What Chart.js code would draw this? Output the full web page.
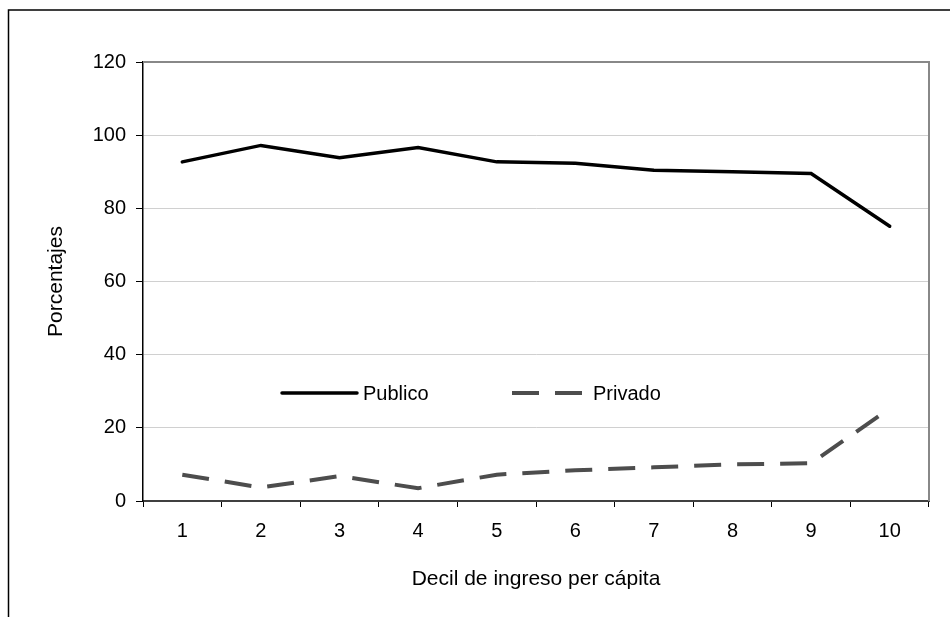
<!DOCTYPE html>
<html>
	<head>
		<meta charset="utf-8" />
		<title>Decil de ingreso</title>
		<script src="https://cdn.jsdelivr.net/npm/chart.js@4.4.0/dist/chart.umd.min.js"></script>
		<style>
			body { margin: 0; background: #fff; }
		</style>
	</head>
	<body>
		<canvas id="myChart" width="950" height="617"></canvas>
	<script>
        //data
        const deciles = ['1', '2', '3', '4', '5', '6', '7', '8', '9', '10'];
        const publico = [92.7, 97.2, 93.8, 96.6, 92.7, 92.3, 90.4, 90.0, 89.5, 75.1];
        const privado = [7.2, 3.7, 6.8, 3.5, 7.2, 8.4, 9.2, 10.0, 10.3, 25.3];
        const seriesNames = ['Publico', 'Privado'];
        const yTicks = [0, 20, 40, 60, 80, 100, 120];

        const fontFamily = "'Liberation Sans', Arial, sans-serif";

        //outer frame + grey top/right edge of the plot
        const framePlugin = {
            id: 'frame',
            beforeDraw(chart) {
                const ctx = chart.ctx;
                ctx.save();
                ctx.fillStyle = '#fff';
                ctx.fillRect(0, 0, chart.width, chart.height);
                ctx.strokeStyle = '#000';
                ctx.lineWidth = 1.5;
                ctx.beginPath();
                ctx.moveTo(8.5, chart.height);
                ctx.lineTo(8.5, 10);
                ctx.lineTo(chart.width, 10);
                ctx.stroke();
                ctx.restore();
            },
            beforeDatasetsDraw(chart) {
                const a = chart.chartArea;
                const ctx = chart.ctx;
                ctx.save();
                ctx.strokeStyle = '#888';
                ctx.lineWidth = 2;
                ctx.beginPath();
                ctx.moveTo(a.left, a.top);
                ctx.lineTo(a.right, a.top);
                ctx.lineTo(a.right, a.bottom);
                ctx.stroke();
                ctx.restore();
            }
        };

        //legend drawn inside the plot like the original
        const insideLegend = {
            id: 'insideLegend',
            afterDatasetsDraw(chart, args, opts) {
                const ctx = chart.ctx;
                ctx.save();
                ctx.font = '20px ' + fontFamily;
                ctx.textBaseline = 'middle';
                ctx.fillStyle = '#000';
                chart.data.datasets.forEach((ds, i) => {
                    const it = opts.items[i];
                    ctx.strokeStyle = ds.borderColor;
                    ctx.lineWidth = ds.borderWidth;
                    ctx.setLineDash(ds.borderDash || []);
                    ctx.lineCap = ds.borderCapStyle || 'butt';
                    ctx.beginPath();
                    ctx.moveTo(it.x, opts.y);
                    ctx.lineTo(it.x + it.len, opts.y);
                    ctx.stroke();
                    ctx.setLineDash([]);
                    ctx.fillText(ds.label, it.x + it.len + 6, opts.y + 1);
                });
                ctx.restore();
            }
        };

        let myChart = document.getElementById('myChart').getContext('2d');

        new Chart(myChart, {
            type: 'line',
            data: {
                labels: deciles,
                datasets: [{
                    label: seriesNames[0],
                    data: publico,
                    borderColor: '#000',
                    borderWidth: 3.5,
                    borderCapStyle: 'round',
                    pointRadius: 0,
                    tension: 0
                }, {
                    label: seriesNames[1],
                    data: privado,
                    borderColor: '#4d4d4d',
                    borderWidth: 4,
                    borderDash: [27, 16],
                    pointRadius: 0,
                    tension: 0
                }]
            },
            options: {
                responsive: false,
                animation: false,
                layout: { padding: { top: 62, right: 21, left: 0, bottom: 0 } },
                plugins: {
                    legend: { display: false },
                    tooltip: { enabled: false },
                    insideLegend: {
                        y: 393,
                        items: [{ x: 282, len: 75 }, { x: 512, len: 75 }]
                    }
                },
                scales: {
                    x: {
                        offset: true,
                        afterFit: (scale) => { scale.height = 116; },
                        grid: {
                            offset: true,
                            drawOnChartArea: false,
                            tickLength: 6,
                            color: '#000'
                        },
                        border: { color: '#404040', width: 2 },
                        ticks: {
                            color: '#000',
                            padding: 12,
                            font: { family: fontFamily, size: 20 }
                        },
                        title: {
                            display: true,
                            text: 'Decil de ingreso per cápita',
                            color: '#000',
                            font: { family: fontFamily, size: 21 },
                            padding: { top: 0, bottom: 25 }
                        }
                    },
                    y: {
                        min: 0,
                        max: 120,
                        afterFit: (scale) => { scale.width = 143; },
                        afterBuildTicks: (scale) => { scale.ticks = yTicks.map(v => ({ value: v })); },
                        grid: {
                            color: '#d0d0d0',
                            lineWidth: 1,
                            tickLength: 7,
                            tickColor: '#000'
                        },
                        border: { color: '#000', width: 1.5 },
                        ticks: {
                            color: '#000',
                            padding: 10,
                            font: { family: fontFamily, size: 20 }
                        },
                        title: {
                            display: true,
                            text: 'Porcentajes',
                            color: '#000',
                            font: { family: fontFamily, size: 21 },
                            padding: { top: 44, bottom: 0 }
                        }
                    }
                }
            },
            plugins: [framePlugin, insideLegend]
        });
	</script>
	</body>
</html>
